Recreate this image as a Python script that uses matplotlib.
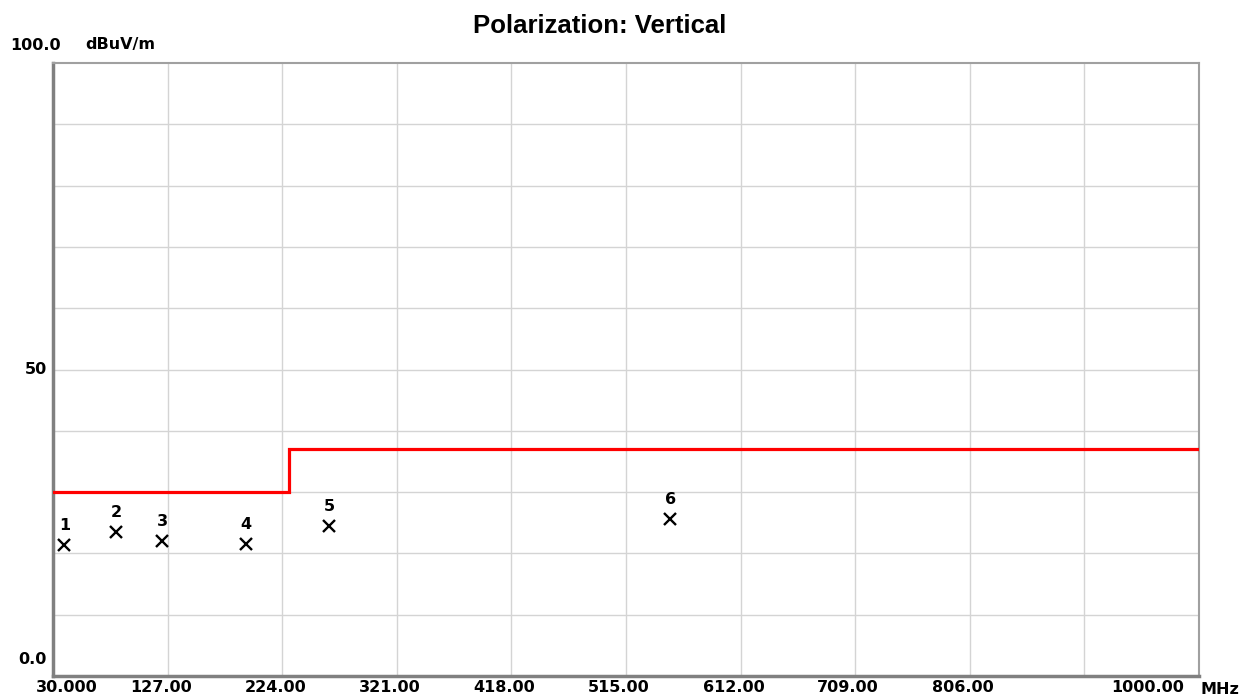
import matplotlib
matplotlib.use("Agg")
import matplotlib.pyplot as plt
import matplotlib.transforms as mtransforms

# ---- data ----
limit_freq = [30, 230, 230, 1000]
limit_level = [30, 30, 37, 37]
marker_ids = ["1", "2", "3", "4", "5", "6"]
marker_freq = [39.6, 83.3, 122.5, 193.4, 263.9, 552.3]
marker_level = [21.4, 23.5, 22.1, 21.5, 24.5, 25.6]
x_ticks = [30, 127, 224, 321, 418, 515, 612, 709, 806, 903, 1000]
x_tick_labels = ["30.000", "127.00", "224.00", "321.00", "418.00", "515.00",
                 "612.00", "709.00", "806.00", "", "1000.00"]
y_ticks = [0, 10, 20, 30, 40, 50, 60, 70, 80, 90, 100]

W, H = 1239, 700
fig = plt.figure(figsize=(W / 100, H / 100), dpi=100)
L, R, T, B = 53, 1199, 63, 676
ax = fig.add_axes([L / W, 1 - B / H, (R - L) / W, (B - T) / H])
ax.set_xlim(30, 1000)
ax.set_ylim(0, 100)

grid_c = "#d4d4d4"
for xv in x_ticks[1:-1]:
    ax.axvline(xv, color=grid_c, lw=1.0, zorder=1)
for yv in y_ticks[1:-1]:
    ax.axhline(yv, color=grid_c, lw=1.0, zorder=1)

for s in ["top", "right"]:
    ax.spines[s].set_color("#a0a0a0")
    ax.spines[s].set_linewidth(1.5)
for s in ["left", "bottom"]:
    ax.spines[s].set_color("#808080")
    ax.spines[s].set_linewidth(2.5)
ax.set_xticks([])
ax.set_yticks([])

ax.plot(limit_freq, limit_level, color="#ff0000", lw=2.3, zorder=3, solid_joinstyle="miter")

ax.plot(marker_freq, marker_level, ls="none", marker="x", ms=8.5, mew=1.7, color="black", zorder=4)
for lab, f, lv in zip(marker_ids, marker_freq, marker_level):
    ax.annotate(lab, (f, lv), xytext=(0, 14), textcoords="offset points",
                ha="center", va="center", fontsize=11.5, fontweight="bold",
                family="DejaVu Sans", color="black")

fkw = dict(family="DejaVu Sans", fontweight="bold", fontsize=11.5, color="black")
trans_x = mtransforms.blended_transform_factory(ax.transData, ax.transAxes)
for i, (xv, lab) in enumerate(zip(x_ticks, x_tick_labels)):
    if not lab:
        continue
    if i == 0:
        off, ha = 14, "center"
    elif i == len(x_ticks) - 1:
        off, ha = -15, "right"
    else:
        off, ha = -7, "center"
    ax.annotate(lab, (xv, 0), xycoords=trans_x, xytext=(off * 0.72, -3),
                textcoords="offset points", ha=ha, va="top", **fkw)
fig.text(1200 / W, 1 - 690 / H, "MHz", ha="left", va="center", **fkw)

# y labels
fig.text(10 / W, 1 - 45 / H, "100.0", ha="left", va="center", **fkw)
fig.text(85 / W, 1 - 45 / H, "dBuV/m", ha="left", va="center", **fkw)
fig.text(47 / W, 1 - 370 / H, "50", ha="right", va="center", **fkw)
fig.text(47 / W, 1 - 660 / H, "0.0", ha="right", va="center", **fkw)

fig.text(600 / W, 1 - 26 / H, "Polarization: Vertical", ha="center", va="center",
         family="Liberation Sans", fontweight="bold", fontsize=18.5)

fig.savefig("out.png", dpi=100, facecolor="white")
